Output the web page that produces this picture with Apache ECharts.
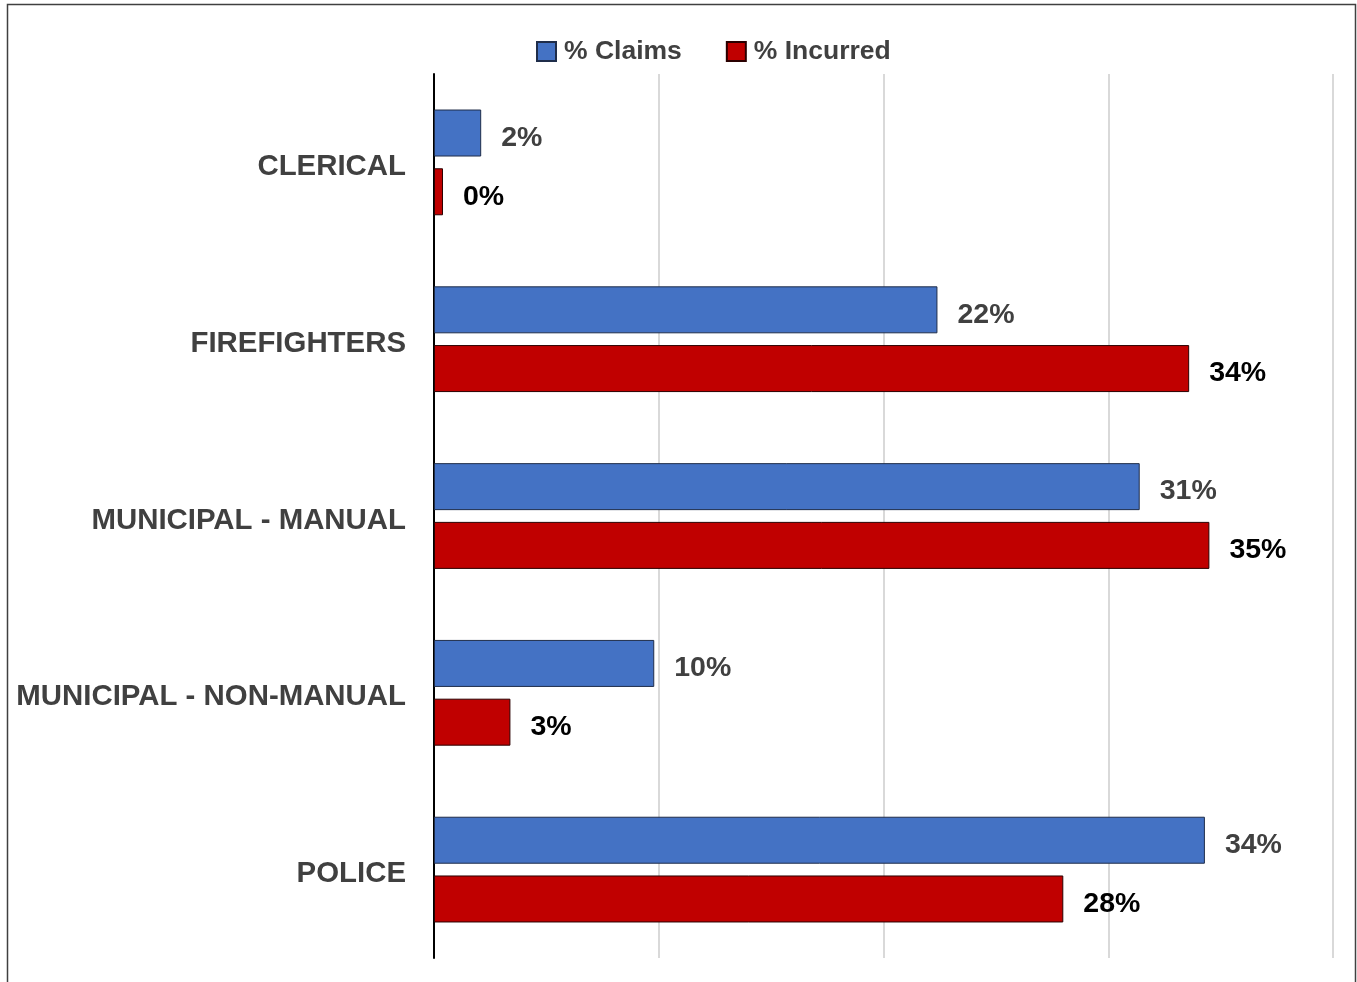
<!DOCTYPE html>
<html>
<head>
<meta charset="utf-8">
<title>Claims vs Incurred by Class</title>
<script src="https://cdn.jsdelivr.net/npm/echarts@6/dist/echarts.min.js"></script>
<style>
  html, body { margin: 0; padding: 0; background: #ffffff; }
  #chart { width: 1357px; height: 982px; }
</style>
</head>
<body>
<div id="chart"></div>
<script>
// Employee classes, listed top to bottom
const categories = ['CLERICAL', 'FIREFIGHTERS', 'MUNICIPAL - MANUAL', 'MUNICIPAL - NON-MANUAL', 'POLICE'];
// Share of claims and of incurred cost per class (percent)
const claimsPct = [2.1, 22.4, 31.4, 9.8, 34.3];
const incurredPct = [0.4, 33.6, 34.5, 3.4, 28.0];
const seriesNames = ['% Claims', '% Incurred'];
// Value axis range and gridline step (percent)
const axisMin = 0;
const axisMax = 40;
const axisStep = 10;

const FONT = '"Liberation Sans", Arial, sans-serif';
const chart = echarts.init(document.getElementById('chart'), null, { renderer: 'canvas' });

const pctLabel = (color) => ({
  show: true,
  position: 'right',
  distance: 20,
  offset: [0, 5],
  fontFamily: FONT,
  fontWeight: 'bold',
  fontSize: 28.5,
  color: color,
  formatter: (p) => Math.round(p.value) + '%'
});

chart.setOption({
  backgroundColor: '#ffffff',
  animation: false,
  graphic: [{
    type: 'rect',
    shape: { x: 7.5, y: 4.5, width: 1348, height: 1000 },
    style: { fill: 'none', stroke: '#404040', lineWidth: 1.5 },
    silent: true,
    z: 100
  }],
  legend: {
    data: seriesNames,
    left: 531,
    top: 33,
    itemWidth: 19,
    itemHeight: 19,
    itemGap: 44,
    icon: 'rect',
    textStyle: { fontFamily: FONT, fontWeight: 'bold', fontSize: 26.5, color: '#404040', padding: [0, 0, 0, 3] }
  },
  grid: { left: 434, right: 24, top: 74, bottom: 24, containLabel: false },
  xAxis: {
    type: 'value',
    min: axisMin,
    max: axisMax,
    interval: axisStep,
    axisLabel: { show: false },
    axisLine: { show: false },
    axisTick: { show: false },
    splitLine: { show: true, lineStyle: { color: '#d9d9d9', width: 2 } }
  },
  yAxis: {
    type: 'category',
    data: categories,
    inverse: true,
    axisLine: { show: true, lineStyle: { color: '#000000', width: 2 } },
    axisTick: { show: false },
    axisLabel: {
      margin: 28,
      fontFamily: FONT,
      fontWeight: 'bold',
      fontSize: 29.4,
      color: '#404040',
      verticalAlign: 'top',
      lineHeight: 9
    }
  },
  series: [
    {
      name: seriesNames[0],
      type: 'bar',
      data: claimsPct,
      barWidth: 47,
      barGap: '25%',
      itemStyle: { color: '#4472C4', borderColor: '#1f2d4a', borderWidth: 1 },
      label: pctLabel('#404040')
    },
    {
      name: seriesNames[1],
      type: 'bar',
      data: incurredPct,
      barWidth: 47,
      barGap: '25%',
      itemStyle: { color: '#C00000', borderColor: '#2a0000', borderWidth: 1 },
      label: pctLabel('#000000')
    }
  ]
});
</script>
</body>
</html>
